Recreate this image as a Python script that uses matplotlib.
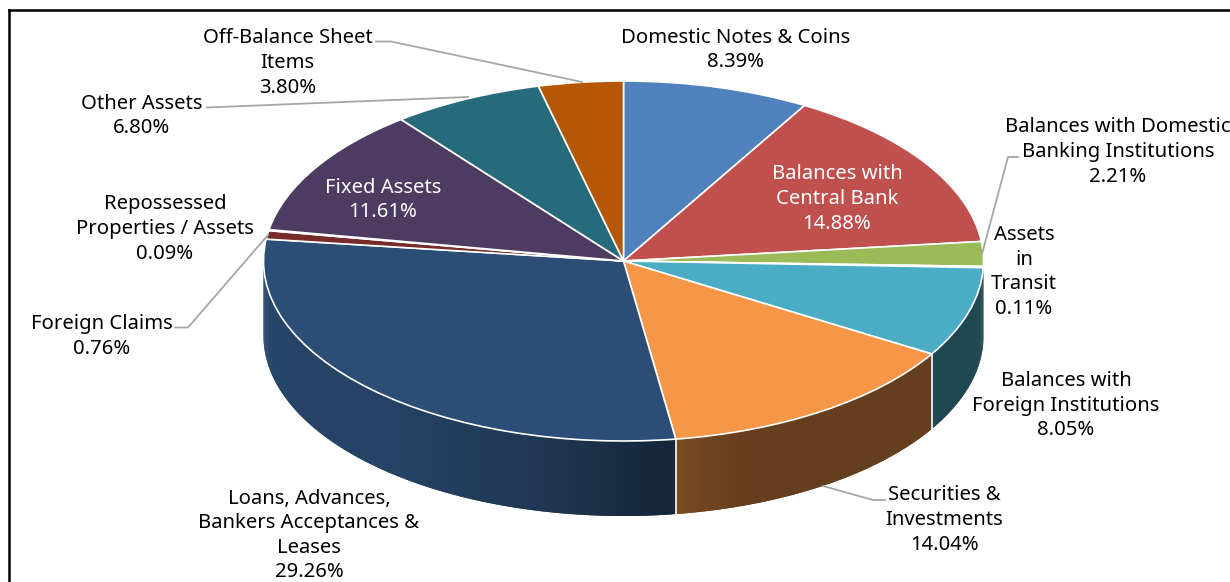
import numpy as np
import matplotlib
matplotlib.use("Agg")
import matplotlib.pyplot as plt
from matplotlib.lines import Line2D

plt.rcParams['font.family'] = ['Noto Sans', 'DejaVu Sans']

# Balance sheet shares, clockwise from twelve o'clock
categories = ["Domestic Notes & Coins", "Balances with\nCentral Bank",
              "Balances with Domestic\nBanking Institutions", "Assets\nin\nTransit",
              "Balances with\nForeign Institutions", "Securities &\nInvestments",
              "Loans, Advances,\nBankers Acceptances &\nLeases", "Foreign Claims",
              "Repossessed\nProperties / Assets", "Fixed Assets", "Other Assets",
              "Off-Balance Sheet\nItems"]
shares = [8.39, 14.88, 2.21, 0.11, 8.05, 14.04, 29.26, 0.76, 0.09, 11.61, 6.80, 3.80]
colors = ["#4f81bd", "#c0504d", "#9bbb59", "#8064a2", "#4bacc6", "#f79646",
          "#2c4d75", "#772c2a", "#5f7530", "#4d3b62", "#276a7c", "#b65708"]

W, H = 1230, 582
CX, CY, RX, RY, DEPTH = 623.5, 261.0, 360.0, 180.0, 75.0

fig = plt.figure(figsize=(W / 100, H / 100), dpi=100, facecolor="white")
ax = fig.add_axes([0, 0, 1, 1])

def fx(x):
    return x / W

def fy(y):
    return 1 - y / H

# Wall brightness runs from the lit left side to the dark centre, then settles
SHADE_X = [-1.0, -0.6, -0.2, 0.1, 0.15, 0.22, 0.35, 1.0]
SHADE_K = [0.90, 0.84, 0.70, 0.50, 0.50, 0.46, 0.41, 0.41]

# Side wall of the disc, only the part facing the viewer.
# Each strip overlaps the next one so no seams show between them.
depth_units = DEPTH / RY
edges = np.cumsum([0] + shares) * 3.6
for start, end, color in zip(edges[:-1], edges[1:], colors):
    lo, hi = max(start, 90.0), min(end, 270.0)
    if lo >= hi:
        continue
    base = np.array(matplotlib.colors.to_rgb(color))
    steps = np.arange(lo, hi + 0.5, 0.5)
    steps[-1] = hi
    for i in range(len(steps) - 1):
        arc = np.radians(np.linspace(steps[i], steps[min(i + 2, len(steps) - 1)], 5))
        xs, ys = np.sin(arc), np.cos(arc)
        k = np.interp(np.sin(np.radians(steps[i])), SHADE_X, SHADE_K)
        ax.fill(np.r_[xs, xs[::-1]], np.r_[ys, ys[::-1] - depth_units],
                facecolor=base * k, edgecolor="none", lw=0, zorder=1)
    for a in (lo, hi):
        if 100.0 < a < 260.0:
            s, c = np.sin(np.radians(a)), np.cos(np.radians(a))
            ax.plot([s, s], [c, c - depth_units], color="#e8e8e8", lw=1.1, zorder=2)

# Top face
wedges, _ = ax.pie(shares, colors=colors, startangle=90, counterclock=False,
                   radius=1.0, center=(0, 0), frame=True,
                   wedgeprops=dict(edgecolor="white", linewidth=1.2, zorder=3))
ax.set_aspect("auto")
ax.set_xlim((0 - CX) / RX, (W - CX) / RX)
ax.set_ylim((CY - H) / RY, CY / RY)
ax.axis("off")

# Chart border: top and left rules
fig.add_artist(Line2D([fx(9), fx(W)], [fy(10), fy(10)], color="black", lw=1.8))
fig.add_artist(Line2D([fx(9), fx(9)], [fy(10), fy(H)], color="black", lw=1.8))

# Leader lines
leaders = [
    ([376, 391, 582], [41.5, 41.5, 82]),
    ([207, 468], [107.5, 97]),
    ([175, 188, 268], [327.5, 327.5, 235]),
    ([1018, 1008, 982], [157, 157, 254]),
    ([885, 873, 823], [500, 500, 486]),
]
for lx, ly in leaders:
    fig.add_artist(Line2D([fx(v) for v in lx], [fy(v) for v in ly],
                          color="#a6a6a6", lw=1.3, zorder=4))

# Labels: centre of the text block and its colour
label_x = [736, 837, 1118, 1024, 1066, 944, 309, 102, 165, 383, 142, 287.5]
label_y = [50, 199, 152, 272, 405.5, 520, 535.5, 336.5, 229, 200, 116, 63]
label_color = ["black", "white", "black", "black", "black", "black", "black",
               "black", "black", "white", "black", "black"]
for name, share, x, y, col in zip(categories, shares, label_x, label_y, label_color):
    fig.text(fx(x), fy(y), f"{name}\n{share:.2f}%", ha="center", va="center",
             color=col, fontsize=14.6, linespacing=1.31, zorder=5)

fig.savefig("out.png", dpi=100)
